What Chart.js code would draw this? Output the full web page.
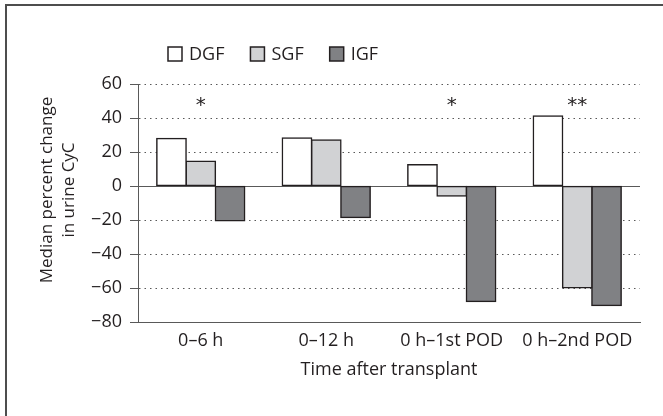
<!DOCTYPE html>
<html>
<head>
<meta charset="utf-8">
<script src="https://cdn.jsdelivr.net/npm/chart.js@4/dist/chart.umd.min.js"></script>
<style>
  html, body { margin: 0; padding: 0; background: #fff; }
  #wrap { width: 663px; height: 416px; position: relative; }
</style>
</head>
<body>
<div id="wrap"><canvas id="cyc-chart"></canvas></div>
<script>
// categories + series
const timePoints = ["0–6 h", "0–12 h", "0 h–1st POD", "0 h–2nd POD"];
const dgfValues = [28, 28.3, 12.5, 41.2];
const sgfValues = [14.5, 27, -5.9, -59.9];
const igfValues = [-20.5, -18.5, -68, -70.3];
const groupNames = ["DGF", "SGF", "IGF"];
const sigMarks = ["*", "", "*", "**"];
const yTitleLines = ["Median percent change", "in urine CyC"];
const yMin = -80, yMax = 60, yStep = 20;

const textColor = "#231f20";
const axisColor = "#595959";
const fills = ["#ffffff", "#d1d2d4", "#808184"];
const fontSize = 18;

Chart.defaults.font.family = "'Open Sans', sans-serif";
Chart.defaults.color = textColor;

// open frame round the figure (top + left edge only)
const framePlugin = {
  id: "frame",
  afterDraw(chart) {
    const c = chart.ctx;
    c.save();
    c.strokeStyle = "#4d4d4d";
    c.lineWidth = 2;
    c.beginPath();
    c.moveTo(6, 416);
    c.lineTo(6, 5);
    c.lineTo(663, 5);
    c.stroke();
    c.restore();
  }
};

// legend row above the plot
const legendPlugin = {
  id: "boxLegend",
  afterDraw(chart) {
    const c = chart.ctx;
    c.save();
    c.font = fontSize + "px 'Open Sans', sans-serif";
    c.textBaseline = "middle";
    let x = 168;
    const y = 54;
    chart.data.datasets.forEach((ds) => {
      c.fillStyle = ds.backgroundColor;
      c.fillRect(x, y - 7, 14, 14);
      c.strokeStyle = textColor;
      c.lineWidth = 1.5;
      c.strokeRect(x, y - 7, 14, 14);
      x += 21;
      c.fillStyle = textColor;
      c.fillText(ds.label, x, y + 1);
      x += c.measureText(ds.label).width + 26;
    });
    c.restore();
  }
};

// y title, two rotated lines (a bit above the plot's middle, as in the figure)
const yTitlePlugin = {
  id: "yTitle",
  afterDraw(chart) {
    const c = chart.ctx;
    c.save();
    c.font = "17px 'Open Sans', sans-serif";
    c.fillStyle = textColor;
    c.textAlign = "center";
    c.textBaseline = "middle";
    yTitleLines.forEach((line, i) => {
      c.save();
      c.translate(47 + i * 22, 190);
      c.rotate(-Math.PI / 2);
      c.fillText(line, 0, 0);
      c.restore();
    });
    c.restore();
  }
};

// significance asterisks
const sigPlugin = {
  id: "sig",
  afterDatasetsDraw(chart) {
    const c = chart.ctx;
    const xs = chart.scales.x, ys = chart.scales.y;
    c.save();
    c.font = "20px 'DejaVu Sans', sans-serif";
    c.fillStyle = textColor;
    c.textAlign = "center";
    c.textBaseline = "middle";
    sigMarks.forEach((m, i) => {
      if (m) c.fillText(m, xs.getPixelForValue(i), ys.getPixelForValue(49) + 3);
    });
    c.restore();
  }
};

const seriesValues = [dgfValues, sgfValues, igfValues];

new Chart(document.getElementById("cyc-chart"), {
  type: "bar",
  data: {
    labels: timePoints,
    datasets: groupNames.map((name, i) => ({
      label: name,
      data: seriesValues[i],
      backgroundColor: fills[i],
      borderColor: textColor,
      borderWidth: 1.5,
      borderSkipped: false,
      inflateAmount: 0.75,
      categoryPercentage: 0.7,
      barPercentage: 1.0
    }))
  },
  options: {
    responsive: true,
    maintainAspectRatio: false,
    animation: false,
    layout: { padding: { top: 84, right: 23, bottom: 0, left: 0 } },
    plugins: { legend: { display: false }, tooltip: { enabled: false } },
    scales: {
      x: {
        grid: { display: false },
        border: { display: true, color: axisColor, width: 1 },
        ticks: { padding: 0, font: { size: fontSize }, color: textColor },
        title: {
          display: true,
          text: "Time after transplant",
          font: { size: fontSize },
          color: textColor,
          padding: { top: 0, bottom: 35 }
        },
        afterFit(scale) { scale.height = 94; }
      },
      y: {
        min: yMin,
        max: yMax,
        ticks: {
          stepSize: yStep,
          padding: 8,
          font: { size: fontSize },
          color: textColor,
          callback: (v) => String(v).replace("-", "\u2212")
        },
        grid: {
          color: axisColor,
          lineWidth: 1,
          tickLength: 8,
          tickColor: axisColor
        },
        border: {
          display: true,
          color: axisColor,
          width: 1,
          dash: (ctx) => (ctx.tick && (ctx.tick.value === 0 || ctx.tick.value === yMin) ? [] : [1.5, 4])
        },
        afterFit(scale) { scale.width = 138; }
      }
    }
  },
  plugins: [framePlugin, legendPlugin, yTitlePlugin, sigPlugin]
});
</script>
</body>
</html>
